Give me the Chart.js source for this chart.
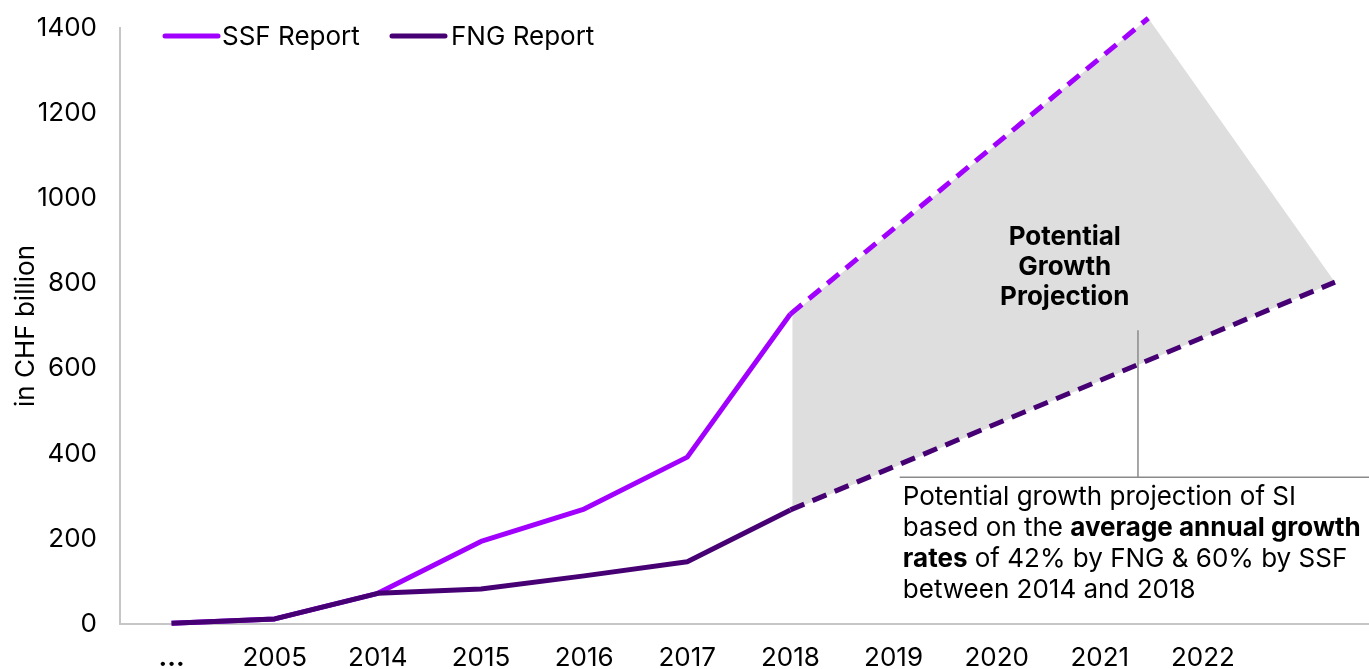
<!DOCTYPE html>
<html><head><meta charset="utf-8">
<script src="https://cdn.jsdelivr.net/npm/chart.js@4.4.1/dist/chart.umd.min.js"></script>
<style>html,body{margin:0;padding:0;background:#fff;overflow:hidden}#wrap{width:1369px;height:669px}</style>
</head><body><div id="wrap"><canvas id="c" width="1369" height="669"></canvas></div>
<script>
// ---- data (x = category index) ----
const categories = ['...', '2005', '2014', '2015', '2016', '2017', '2018', '2019', '2020', '2021', '2022'];
const ssfValues = [2, 12, 72, 194, 270, 392, 728];
const fngValues = [2, 12, 72, 82, 113, 146, 268];
const ssfProjection = [[6, 728], [9.47, 1423]];
const fngProjection = [[6, 268], [11.28, 803]];
const projectionArea = [[6.02, 728], [9.47, 1423], [11.28, 803], [6.02, 268]];
const yTicks = [0, 200, 400, 600, 800, 1000, 1200, 1400];
const seriesNames = ['SSF Report', 'FNG Report'];
const areaLabel = ['Potential', 'Growth', 'Projection'];
const noteLines = [
  [['Potential growth projection of SI', false]],
  [['based on the ', false], ['average annual growth', true]],
  [['rates', true], [' of 42% by FNG & 60% by SSF', false]],
  [['between 2014 and 2018', false]]
];

const SSF = '#A100FF', FNG = '#460073';
const FONT = 'Inter, "Open Sans", sans-serif';
const pts = a => a.map(p => ({x: p[0], y: p[1]}));
const seq = v => v.map((y, i) => ({x: i, y}));

const unclip = {
  id: 'unclip',
  beforeDatasetsDraw(chart) { chart._savedTop = chart.chartArea.top; chart.chartArea.top = 0; },
  afterDatasetsDraw(chart) { chart.chartArea.top = chart._savedTop; }
};

const extras = {
  id: 'extras',
  afterDraw(chart) {
    const ctx = chart.ctx, x = chart.scales.x, y = chart.scales.y;
    ctx.save();
    // legend
    const leg = [[165, 218, 222, SSF, seriesNames[0]], [392, 445, 451, FNG, seriesNames[1]]];
    ctx.font = '26px ' + FONT; ctx.textBaseline = 'middle'; ctx.textAlign = 'left';
    leg.forEach(l => {
      ctx.strokeStyle = l[3]; ctx.lineWidth = 5; ctx.lineCap = 'round';
      ctx.beginPath(); ctx.moveTo(l[0], 36); ctx.lineTo(l[1], 36); ctx.stroke();
      ctx.fillStyle = '#000'; ctx.fillText(l[4], l[2], 37);
    });
    // area label
    ctx.font = 'bold 26px ' + FONT; ctx.textAlign = 'center'; ctx.fillStyle = '#000';
    const cx = x.getPixelForValue(8.66);
    areaLabel.forEach((t, i) => ctx.fillText(t, cx, 237 + i * 30));
    // leader lines
    ctx.strokeStyle = '#8a8a8a'; ctx.lineWidth = 1.5; ctx.lineCap = 'butt';
    const vx = x.getPixelForValue(9.37);
    const hy = y.getPixelForValue(345);
    ctx.beginPath();
    ctx.moveTo(vx, y.getPixelForValue(690)); ctx.lineTo(vx, hy);
    ctx.moveTo(x.getPixelForValue(7.06), hy); ctx.lineTo(chart.width, hy);
    ctx.stroke();
    // note
    ctx.textAlign = 'left'; ctx.fillStyle = '#000';
    const nx = x.getPixelForValue(7.09);
    noteLines.forEach((line, i) => {
      let px = nx;
      line.forEach(seg => {
        ctx.font = (seg[1] ? 'bold ' : '') + '26px ' + FONT;
        ctx.fillText(seg[0], px, 497 + i * 31);
        px += ctx.measureText(seg[0]).width;
      });
    });
    ctx.restore();
  }
};

new Chart(document.getElementById('c'), {
  type: 'line',
  data: {
    datasets: [
      {data: seq(fngValues), borderColor: FNG, borderWidth: 5, order: 0},
      {data: seq(ssfValues), borderColor: SSF, borderWidth: 5, order: 1},
      {data: pts(fngProjection), borderColor: FNG, borderWidth: 5, borderDash: [15, 9], order: 2},
      {data: pts(ssfProjection), borderColor: SSF, borderWidth: 5, borderDash: [15, 9], order: 3},
      {data: pts(projectionArea), borderWidth: 0, borderColor: 'rgba(0,0,0,0)', backgroundColor: '#DEDEDE', fill: 'shape', order: 10}
    ].map(d => Object.assign({pointRadius: 0, tension: 0, clip: false, borderCapStyle: 'butt', borderJoinStyle: 'round', fill: false}, d))
  },
  options: {
    responsive: false, animation: false, devicePixelRatio: 1,
    layout: {padding: {top: 28, left: 0, right: 0, bottom: 0}},
    plugins: {legend: {display: false}, tooltip: {enabled: false}},
    scales: {
      x: {
        type: 'linear', min: -0.5, max: 11.61,
        afterBuildTicks: s => { s.ticks = categories.map((c, i) => ({value: i})); },
        afterFit: s => { s.height = 45; s.paddingLeft = 0; s.paddingRight = 0; },
        grid: {display: false, drawTicks: false},
        border: {display: true, color: '#c6c6c6', width: 2},
        ticks: {
          autoSkip: false, maxRotation: 0, padding: 19, color: '#000',
          callback: v => categories[v],
          font: c => ({family: FONT, size: 26, weight: c.index === 0 ? 'bold' : 'normal'})
        }
      },
      y: {
        min: 0, max: 1400,
        afterBuildTicks: s => { s.ticks = yTicks.map(v => ({value: v})); },
        afterFit: s => { s.width = 120; s.paddingTop = 0; s.paddingBottom = 0; },
        grid: {display: false, drawTicks: false},
        border: {display: true, color: '#c6c6c6', width: 2},
        ticks: {padding: 23, color: '#000', font: {family: FONT, size: 26}, callback: v => String(v)},
        title: {display: true, text: 'in CHF billion', color: '#000', font: {family: FONT, size: 26}, padding: {top: 11, bottom: 0}}
      }
    }
  },
  plugins: [unclip, extras]
});
</script></body></html>
